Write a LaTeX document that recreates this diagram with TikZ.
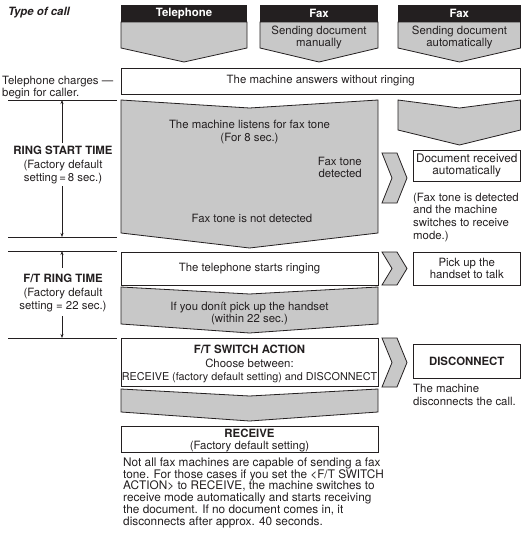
\documentclass[tikz,border=0pt]{standalone}
\usepackage{fontspec}
\setmainfont{TeX Gyre Heros}
\usetikzlibrary{arrows.meta}
\definecolor{callgrey}{HTML}{C8C8C8}
\definecolor{callblack}{HTML}{231F20}

\begin{document}
\begin{tikzpicture}[x=1pt, y=-1pt,
    font=\fontsize{11.4}{12.6}\selectfont,
    every node/.style={inner sep=0pt, text=callblack},
    box/.style={draw=callblack, line width=0.8pt, fill=white, align=center},
    head/.style={fill=callblack, text=white, minimum height=17pt, font=\fontsize{11.4}{12.6}\selectfont\bfseries},
    chev/.style={fill=callgrey, draw=callblack, line width=0.8pt},
    rule/.style={draw=callblack, line width=0.6pt},
    span/.style={draw=callblack, line width=0.6pt, -{Stealth[length=4pt, width=3pt]}}]
  \useasboundingbox (0,0) rectangle (521,547);

  % column heads with their grey arrows
  \draw[chev] (121,22) -- (247,22) -- (247,48) -- (184,62) -- (121,48) -- cycle;
  \draw[chev] (260,22) -- (378,22) -- (378,48) -- (319,62) -- (260,48) -- cycle;
  \draw[chev] (398,22) -- (520.5,22) -- (520.5,48) -- (459.5,62) -- (398,48) -- cycle;
  \node[head, minimum width=126pt] (tel) at (184,13.5) {Telephone};
  \node[head, minimum width=118pt] (faxman) at (319,13.5) {Fax};
  \node[head, minimum width=122.5pt] (faxauto) at (459.25,13.5) {Fax};
  \node[align=center] (faxmantxt) at (319,37.5) {Sending document\\manually};
  \node[align=center] (faxautotxt) at (459.5,37.5) {Sending document\\automatically};
  \node[anchor=west, font=\fontsize{11.4}{12.6}\selectfont\bfseries\itshape] (type) at (8,13) {Type of call};

  % answering
  \node[box, minimum width=399.5pt, minimum height=26pt] (answer) at (320.75,81) {The machine answers without ringing};
  \node[anchor=north west, align=left] (charges) at (2,75.5) {Telephone charges —\\begin for caller.};

  % listening for fax tone
  \draw[chev] (121,100) -- (249.5,108) -- (378,100) -- (378,233) -- (249.5,248) -- (121,233) -- cycle;
  \draw[chev] (398,100) -- (459.5,108) -- (520.5,100) -- (520.5,130) -- (459.5,145) -- (398,130) -- cycle;
  \node[align=center] (listen) at (249.5,132) {The machine listens for fax tone\\(For 8 sec.)};
  \node[align=right, anchor=east] (detected) at (362,167.5) {Fax tone\\detected};
  \node (notdet) at (252,218) {Fax tone is not detected};
  \draw[chev] (382,153) -- (397,153) -- (407,178) -- (397,203) -- (382,203) -- (392,178) -- cycle;
  \node[box, minimum width=107.5pt, minimum height=31pt, font=\fontsize{11.8}{11.8}\selectfont] (docrec) at (466.75,165.5)
    {Document received\\automatically};
  \node[anchor=north west, align=left, font=\fontsize{11.4}{12.7}\selectfont] (docnote) at (413,192.5)
    {(Fax tone is detected\\and the machine\\switches to receive\\mode.)};

  % ringing
  \node[box, minimum width=257pt, minimum height=33pt] (ringing) at (249.5,268.5) {The telephone starts ringing};
  \draw[chev] (382,252) -- (397,252) -- (407,268.5) -- (397,285) -- (382,285) -- (392,268.5) -- cycle;
  \node[box, minimum width=107.5pt, minimum height=33pt] (pickup) at (466.75,268.5) {Pick up the\\handset to talk};
  \draw[chev] (121,287) -- (249.5,294) -- (378,287) -- (378,324) -- (249.5,333) -- (121,324) -- cycle;
  \node[align=center] (nopick) at (249.5,313.5) {If you donít pick up the handset\\(within 22 sec.)};

  % switch action
  \node[box, minimum width=257pt, minimum height=48pt] (switch) at (249.5,362) {};
  \node[align=center, font=\fontsize{11.4}{13.4}\selectfont] (switchtxt) at (249.5,364)
    {\textbf{F/T SWITCH ACTION}\\Choose between:\\\fontsize{10.8}{13.4}\selectfont RECEIVE (factory default setting) and DISCONNECT};
  \draw[chev] (382,338) -- (397,338) -- (407,362.5) -- (397,387) -- (382,387) -- (392,362.5) -- cycle;
  \node[box, minimum width=107.5pt, minimum height=34pt, font=\fontsize{11.4}{12.6}\selectfont\bfseries] (disc) at (466.75,361) {DISCONNECT};
  \node[anchor=north west, align=left, font=\fontsize{11.4}{13.8}\selectfont] (discnote) at (413,383.5)
    {The machine\\disconnects the call.};
  \draw[chev] (121,389) -- (249.5,396) -- (378,389) -- (378,412) -- (249.5,421) -- (121,412) -- cycle;
  \node[box, minimum width=257pt, minimum height=26pt] (receive) at (249.5,439) {};
  \node[align=center, font=\fontsize{11.4}{12.2}\selectfont] (receivetxt) at (249.5,440.5) {\textbf{RECEIVE}\\(Factory default setting)};
  \node[anchor=north west, align=left, font=\fontsize{11.8}{11.8}\selectfont] (note) at (123,457.5)
    {Not all fax machines are capable of sending a fax\\tone. For those cases if you set the <F/T SWITCH\\ACTION> to RECEIVE, the machine switches to\\receive mode automatically and starts receiving\\the document. If no document comes in, it\\disconnects after approx. 40 seconds.};

  % time spans on the left
  \draw[rule] (8,100) -- (117,100);
  \draw[rule] (8,237) -- (117,237);
  \draw[rule] (8,251) -- (117,251);
  \draw[rule] (8,338) -- (117,338);
  \node[align=center, font=\fontsize{11.4}{13.5}\selectfont] (ringstart) at (63,165.5)
    {\textbf{RING START TIME}\\(Factory default\\setting\,=\,8 sec.)};
  \node[align=center, font=\fontsize{11.4}{13.5}\selectfont] (ftring) at (63,293.5)
    {\textbf{F/T RING TIME}\\(Factory default\\setting = 22 sec.)};
  \coordinate (rs top) at (62,100);
  \coordinate (rs bot) at (62,237);
  \coordinate (ft top) at (62,251);
  \coordinate (ft bot) at (62,338);
  \draw[span] (62,143) -- (rs top);
  \draw[span] (62,186) -- (rs bot);
  \draw[span] (62,268) -- (ft top);
  \draw[span] (62,316) -- (ft bot);
\end{tikzpicture}
\end{document}
